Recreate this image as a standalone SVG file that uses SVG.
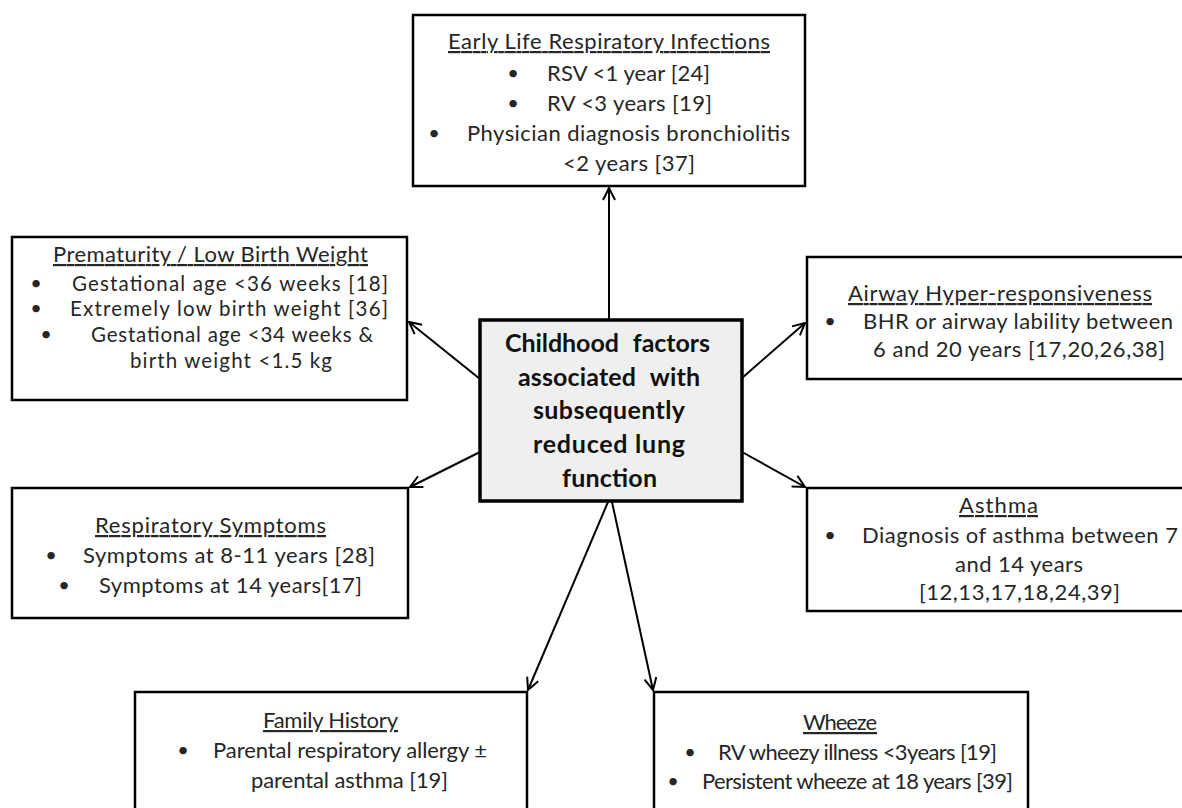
<svg xmlns="http://www.w3.org/2000/svg" width="1182" height="808" viewBox="0 0 1182 808">
<defs>
<marker id="arr" viewBox="0 0 14 14" refX="13" refY="7" markerWidth="14" markerHeight="14" markerUnits="userSpaceOnUse" orient="auto">
<path d="M1,1 L13,7 L1,13" fill="none" stroke="#000" stroke-width="2"/>
</marker>
<style>
text{font-family:Lato,"Open Sans","Liberation Sans",sans-serif;font-size:22px;fill:#262626}
.h{text-anchor:middle;text-decoration:underline}
.m{text-anchor:middle}
.b{text-anchor:middle;font-size:20px}
.s{font-size:20.5px}
.box{fill:#fff;stroke:#000;stroke-width:2.5}
.ctr{fill:#efefef;stroke:#000;stroke-width:3.5}
.ct{font-weight:bold;font-size:25px;fill:#111;text-anchor:middle}
.con line{stroke:#000;stroke-width:2;marker-end:url(#arr)}
</style>
</defs>
<rect width="1182" height="808" fill="#fff"/>
<g class="con" id="connectors">
<line x1="609" y1="320" x2="609" y2="188"/>
<line x1="480" y1="379" x2="409" y2="322"/>
<line x1="480" y1="452" x2="410" y2="487"/>
<line x1="742" y1="378" x2="805" y2="323"/>
<line x1="742" y1="452" x2="805" y2="487"/>
<line x1="608" y1="502" x2="528" y2="690"/>
<line x1="612" y1="502" x2="653" y2="690"/>
</g>
<g id="early">
<rect class="box" x="413" y="15" width="392" height="171"/>
<text class="h" x="609" y="49" textLength="322">Early Life Respiratory Infections</text>
<text class="b" x="513" y="80">•</text><text x="547" y="81" textLength="163">RSV &lt;1 year [24]</text>
<text class="b" x="513" y="110">•</text><text x="547" y="111" textLength="165">RV &lt;3 years [19]</text>
<text class="b" x="434" y="140">•</text><text x="467" y="141" textLength="323">Physician diagnosis bronchiolitis</text>
<text class="m" x="629" y="171" textLength="132">&lt;2 years [37]</text>
</g>
<g id="prematurity">
<rect class="box" x="12" y="237" width="395" height="163"/>
<text class="h" x="210.5" y="262" textLength="315">Prematurity / Low Birth Weight</text>
<text class="b" x="36" y="290">•</text><text class="s" x="72" y="291" textLength="316">Gestational age &lt;36 weeks [18]</text>
<text class="b" x="36" y="315">•</text><text class="s" x="70" y="316" textLength="318">Extremely low birth weight [36]</text>
<text class="b" x="46" y="341">•</text><text class="s" x="91" y="342" textLength="282">Gestational age &lt;34 weeks &amp;</text>
<text class="m s" x="231" y="368" textLength="202">birth weight &lt;1.5 kg</text>
</g>
<g id="airway">
<rect class="box" x="807" y="257" width="390" height="122"/>
<text class="h" x="1000" y="301" textLength="304">Airway Hyper-responsiveness</text>
<text class="b" x="830" y="328">•</text><text x="863" y="329" textLength="310">BHR or airway lability between</text>
<text class="m" x="1019" y="357" textLength="292">6 and 20 years [17,20,26,38]</text>
</g>
<g id="asthma">
<rect class="box" x="807" y="488" width="390" height="123"/>
<text class="h" x="998.5" y="513" textLength="79">Asthma</text>
<text class="b" x="830" y="542">•</text><text x="862" y="543" textLength="316">Diagnosis of asthma between 7</text>
<text class="m" x="1019" y="572" textLength="128">and 14 years</text>
<text class="m" x="1019.5" y="600" textLength="201">[12,13,17,18,24,39]</text>
</g>
<g id="respiratory">
<rect class="box" x="12" y="488" width="396" height="130"/>
<text class="h" x="210.5" y="533" textLength="231">Respiratory Symptoms</text>
<text class="b" x="51" y="562">•</text><text x="83" y="563" textLength="292">Symptoms at 8-11 years [28]</text>
<text class="b" x="64" y="592">•</text><text x="99" y="593" textLength="263">Symptoms at 14 years[17]</text>
</g>
<g id="family">
<rect class="box" x="135" y="692" width="392" height="140"/>
<text class="h" x="330.5" y="728" textLength="135">Family History</text>
<text class="b" x="183" y="757">•</text><text x="213" y="758" textLength="274">Parental respiratory allergy ±</text>
<text class="m" x="349.5" y="788" textLength="197">parental asthma [19]</text>
</g>
<g id="wheeze">
<rect class="box" x="654" y="692" width="374" height="140"/>
<text class="h" x="840" y="730" textLength="74">Wheeze</text>
<text class="b" x="690" y="759">•</text><text x="718" y="760" textLength="279">RV wheezy illness &lt;3years [19]</text>
<text class="b" x="673" y="788">•</text><text x="702" y="789" textLength="311">Persistent wheeze at 18 years [39]</text>
</g>
<g id="center">
<rect class="ctr" x="480" y="320" width="262" height="181"/>
<text class="ct" x="607.5" y="352" word-spacing="8" textLength="205">Childhood factors</text>
<text class="ct" x="609" y="386" word-spacing="8" textLength="182">associated with</text>
<text class="ct" x="609" y="419" textLength="152">subsequently</text>
<text class="ct" x="609" y="453" textLength="152">reduced lung</text>
<text class="ct" x="609.5" y="487" textLength="95">function</text>
</g>
</svg>
